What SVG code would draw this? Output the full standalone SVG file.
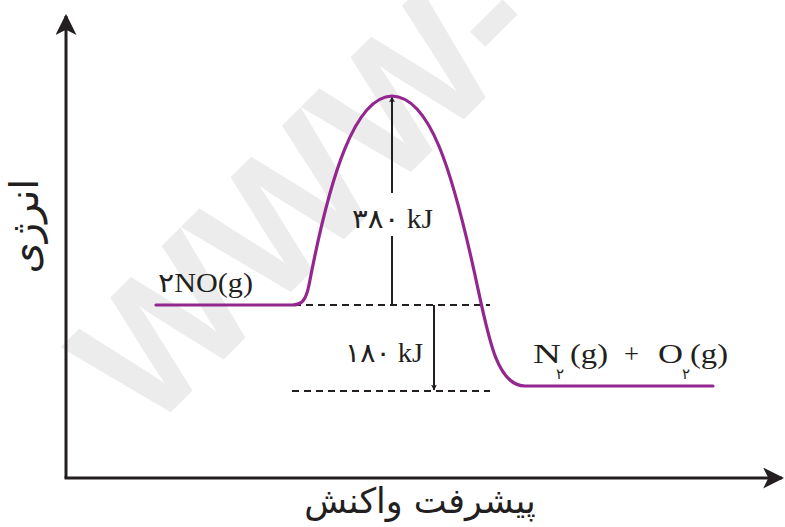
<svg xmlns="http://www.w3.org/2000/svg" width="785" height="527" viewBox="0 0 785 527">
<style>
.ax{stroke:#231f20;stroke-width:3;fill:none}
.dash{stroke:#231f20;stroke-width:2;stroke-dasharray:7 5;fill:none}
.arr{stroke:#231f20;stroke-width:2;fill:none}
.curve{stroke:#93278f;stroke-width:3.2;fill:none;stroke-linecap:round}
.lbl{font-family:"Liberation Serif","DejaVu Sans",serif;font-size:27px;fill:#231f20}
.sub{font-family:"DejaVu Sans","Liberation Serif",sans-serif;font-size:15px;fill:#231f20}
.fa{font-family:"DejaVu Sans","Noto Sans",sans-serif;fill:#231f20}
.wm{font-family:"Liberation Sans",Arial,sans-serif;font-weight:bold;fill:#ececec}
</style>
<defs>
<marker id="ah" viewBox="0 0 10 10" refX="9" refY="5" markerWidth="6" markerHeight="6" orient="auto-start-reverse" markerUnits="userSpaceOnUse">
<path d="M0,0 L10,5 L0,10 L2.5,5 z" fill="#231f20"/>
</marker>
<marker id="axh" viewBox="0 0 10 10" refX="9" refY="5" markerWidth="7" markerHeight="7" orient="auto" markerUnits="strokeWidth">
<path d="M0,0 L10,5 L0,10 L2.5,5 z" fill="#231f20"/>
</marker>
</defs>
<rect width="785" height="527" fill="#ffffff"/>
<text class="wm" x="148" y="435" font-size="180" transform="rotate(-45 148 435)">WWW-</text>
<g id="axes">
<line class="ax" x1="66" y1="478" x2="66" y2="16" marker-end="url(#axh)"/>
<line class="ax" x1="64.5" y1="478" x2="782" y2="478" marker-end="url(#axh)"/>
</g>
<g id="y-label"><text class="fa" font-size="40" text-anchor="middle" transform="translate(38 226) rotate(-90)">انرژی</text></g>
<g id="x-label"><text class="fa" font-size="35" text-anchor="middle" x="420" y="513">پیشرفت واکنش</text></g>
<g id="connectors">
<line class="dash" x1="294" y1="305" x2="490" y2="305"/>
<line class="dash" x1="292" y1="391" x2="490" y2="391"/>
<line class="arr" x1="392" y1="305" x2="392" y2="236"/>
<line class="arr" x1="392" y1="193" x2="392" y2="97" marker-end="url(#ah)"/>
<line class="arr" x1="434" y1="305" x2="434" y2="390" marker-end="url(#ah)"/>
</g>
<g id="curve">
<path class="curve" d="M156,305 L292,305 C302,305 306,300 309,285 C330,175 355,97 392,96 C430,97 452,170 475,275 C488,335 496,386 525,386 L713,386"/>
</g>
<g id="reactant"><text class="lbl" x="158" y="292" textLength="95" lengthAdjust="spacingAndGlyphs">۲NO(g)</text></g>
<g id="ea-label"><text class="lbl" x="352" y="228" textLength="81" lengthAdjust="spacingAndGlyphs">۳۸۰ kJ</text></g>
<g id="dh-label"><text class="lbl" x="345" y="362" textLength="78" lengthAdjust="spacingAndGlyphs">۱۸۰ kJ</text></g>
<g id="product">
<text class="lbl" x="533" y="363" textLength="28" lengthAdjust="spacingAndGlyphs">N</text>
<text class="sub" x="556" y="379">۲</text>
<text class="lbl" x="570" y="363" textLength="38" lengthAdjust="spacingAndGlyphs">(g)</text>
<text class="lbl" x="624" y="363" textLength="15" lengthAdjust="spacingAndGlyphs">+</text>
<text class="lbl" x="658" y="363" textLength="25" lengthAdjust="spacingAndGlyphs">O</text>
<text class="sub" x="682" y="379">۲</text>
<text class="lbl" x="690" y="363" textLength="38" lengthAdjust="spacingAndGlyphs">(g)</text>
</g>
</svg>
